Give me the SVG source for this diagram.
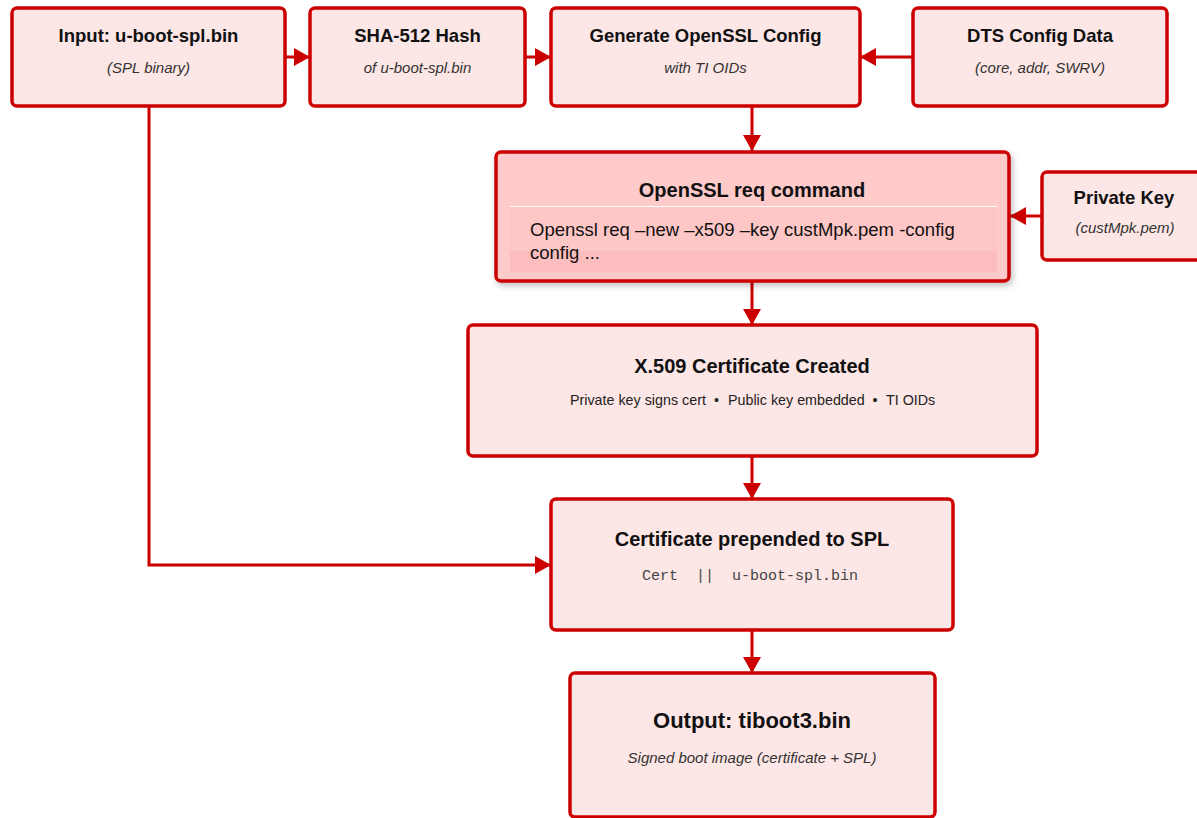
<svg xmlns="http://www.w3.org/2000/svg" width="1197" height="818" viewBox="0 0 1197 818">
<defs>
<style>
.box{fill:#fde6e6;stroke:#cc0000;stroke-width:3.5}
.boxd{fill:#ffcaca;stroke:#cc0000;stroke-width:3.5}
.t{font-family:"Liberation Sans",Arial,sans-serif;font-weight:bold;fill:#111;text-anchor:middle}
.s{font-family:"Liberation Sans",Arial,sans-serif;font-style:italic;font-size:15px;fill:#333;text-anchor:middle}
.r{font-family:"Liberation Sans",Arial,sans-serif;font-size:14.3px;fill:#222}
.m{font-family:"Liberation Mono","Courier New",monospace;font-size:15px;fill:#444}
.c{font-family:"Liberation Sans",Arial,sans-serif;font-size:18.5px;fill:#111}
.e{fill:none;stroke:#cc0000;stroke-width:3}
</style>
<marker id="ah" viewBox="0 0 16 18" refX="16" refY="9" markerWidth="16" markerHeight="18" markerUnits="userSpaceOnUse" orient="auto">
<path d="M0,0 L16,9 L0,18 Z" fill="#cc0000"/>
</marker>
<filter id="sh" x="-5%" y="-5%" width="115%" height="125%">
<feDropShadow dx="2" dy="3" stdDeviation="3" flood-color="#000" flood-opacity="0.25"/>
</filter>
</defs>
<rect width="1197" height="818" fill="#ffffff"/>

<g id="connectors">
<path class="e" d="M285,57 L310,57" marker-end="url(#ah)"/>
<path class="e" d="M525,57 L551,57" marker-end="url(#ah)"/>
<path class="e" d="M913,57 L860,57" marker-end="url(#ah)"/>
<path class="e" d="M752,106 L752,151" marker-end="url(#ah)"/>
<path class="e" d="M1042,216 L1010,216" marker-end="url(#ah)"/>
<path class="e" d="M752,282 L752,325" marker-end="url(#ah)"/>
<path class="e" d="M752,456 L752,499" marker-end="url(#ah)"/>
<path class="e" d="M149,106 L149,565 L551,565" marker-end="url(#ah)"/>
<path class="e" d="M752,630 L752,673" marker-end="url(#ah)"/>
</g>

<g id="input">
<rect class="box" x="12" y="8" width="273" height="98" rx="5"/>
<text class="t" x="148.5" y="41.5" font-size="18.5">Input: u-boot-spl.bin</text>
<text class="s" x="148.5" y="73">(SPL binary)</text>
</g>

<g id="sha">
<rect class="box" x="310" y="8" width="215" height="98" rx="5"/>
<text class="t" x="417.5" y="41.5" font-size="18.5">SHA-512 Hash</text>
<text class="s" x="417.5" y="73">of u-boot-spl.bin</text>
</g>

<g id="genconfig">
<rect class="box" x="551" y="8" width="309" height="98" rx="5"/>
<text class="t" x="705.5" y="41.5" font-size="18.5">Generate OpenSSL Config</text>
<text class="s" x="705.5" y="73">with TI OIDs</text>
</g>

<g id="dts">
<rect class="box" x="913" y="8" width="254" height="98" rx="5"/>
<text class="t" x="1040" y="41.5" font-size="18.5">DTS Config Data</text>
<text class="s" x="1040" y="73">(core, addr, SWRV)</text>
</g>

<g id="reqcmd">
<rect class="boxd" x="496" y="152" width="513" height="129" rx="5" filter="url(#sh)"/>
<text class="t" x="752" y="197" font-size="20">OpenSSL req command</text>
<rect x="510" y="207" width="487" height="65" fill="#ffc6c6"/>
<rect x="510" y="251" width="487" height="21" fill="#fbbdbd"/>
<line x1="510" y1="206.5" x2="997" y2="206.5" stroke="#ffffff" stroke-width="1.2"/>
<text class="c" x="530" y="235.5">Openssl req –new –x509 –key custMpk.pem -config</text>
<text class="c" x="530" y="258.5">config ...</text>
</g>

<g id="privkey">
<rect class="box" x="1042" y="172" width="170" height="88" rx="5"/>
<text class="t" x="1124" y="203.5" font-size="18.5">Private Key</text>
<text class="s" x="1125" y="233">(custMpk.pem)</text>
</g>

<g id="x509">
<rect class="box" x="468" y="325" width="569" height="131" rx="5"/>
<text class="t" x="752" y="373" font-size="20">X.509 Certificate Created</text>
<text class="r" x="570" y="405">Private key signs cert</text>
<text class="r" x="716.5" y="405" text-anchor="middle">•</text>
<text class="r" x="728" y="405">Public key embedded</text>
<text class="r" x="875" y="405" text-anchor="middle">•</text>
<text class="r" x="886" y="405">TI OIDs</text>
</g>

<g id="prepend">
<rect class="box" x="551" y="499" width="402" height="131" rx="5"/>
<text class="t" x="752" y="546" font-size="20">Certificate prepended to SPL</text>
<text class="m" x="642" y="580" xml:space="preserve">Cert  ||  u-boot-spl.bin</text>
</g>

<g id="output">
<rect class="box" x="570" y="673" width="365" height="144" rx="5"/>
<text class="t" x="752" y="728" font-size="22">Output: tiboot3.bin</text>
<text class="s" x="752" y="763" font-size="16">Signed boot image (certificate + SPL)</text>
</g>
</svg>
